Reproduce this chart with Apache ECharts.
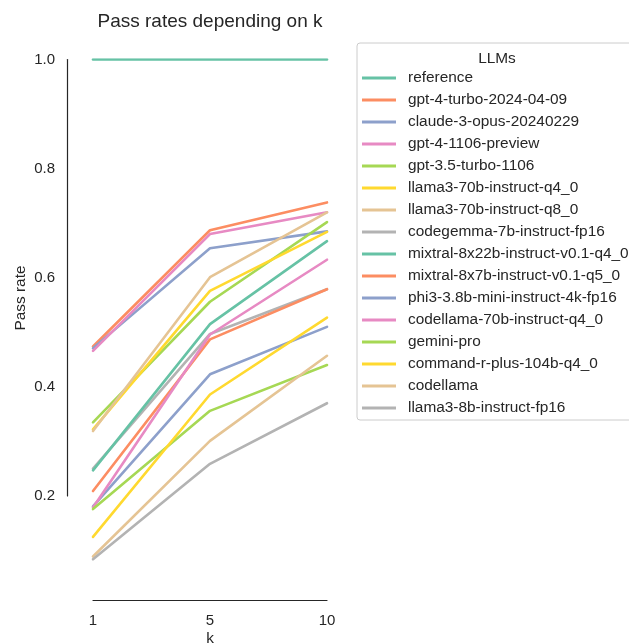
<!DOCTYPE html>
<html>
<head>
<meta charset="utf-8">
<script src="https://cdn.jsdelivr.net/npm/echarts@6/dist/echarts.min.js"></script>
<style>
  html, body { margin: 0; padding: 0; background: #fff; }
  #chart { width: 629px; height: 643px; }
</style>
</head>
<body>
<div id="chart"></div>
<script>
// k values on the x axis
const kValues = ['1', '5', '10']
const yTicks = [0.2, 0.4, 0.6, 0.8, 1.0]

const llmNames = [
  'reference',
  'gpt-4-turbo-2024-04-09',
  'claude-3-opus-20240229',
  'gpt-4-1106-preview',
  'gpt-3.5-turbo-1106',
  'llama3-70b-instruct-q4_0',
  'llama3-70b-instruct-q8_0',
  'codegemma-7b-instruct-fp16',
  'mixtral-8x22b-instruct-v0.1-q4_0',
  'mixtral-8x7b-instruct-v0.1-q5_0',
  'phi3-3.8b-mini-instruct-4k-fp16',
  'codellama-70b-instruct-q4_0',
  'gemini-pro',
  'command-r-plus-104b-q4_0',
  'codellama',
  'llama3-8b-instruct-fp16'
]

// pass rate at k = 1, 5, 10 (same order as llmNames)
const passRates = [
  [1.0, 1.0, 1.0],
  [0.474, 0.687, 0.738],
  [0.471, 0.654, 0.685],
  [0.466, 0.680, 0.720],
  [0.335, 0.556, 0.702],
  [0.322, 0.576, 0.684],
  [0.319, 0.601, 0.720],
  [0.250, 0.497, 0.579],
  [0.247, 0.515, 0.667],
  [0.209, 0.487, 0.579],
  [0.181, 0.423, 0.510],
  [0.179, 0.496, 0.633],
  [0.176, 0.356, 0.440],
  [0.125, 0.386, 0.527],
  [0.089, 0.301, 0.457],
  [0.084, 0.259, 0.370]
]

// seaborn Set2
const colors = ['#66c2a5', '#fc8d62', '#8da0cb', '#e78ac3', '#a6d854', '#ffd92f', '#e5c494', '#b3b3b3']

const fontFamily = '"Liberation Sans", Arial, sans-serif'
const textColor = '#262626'

const chart = echarts.init(document.getElementById('chart'))

const series = llmNames.map((name, i) => ({
  name: name,
  type: 'line',
  xAxisIndex: 0,
  yAxisIndex: 0,
  data: passRates[i],
  symbol: 'none',
  showSymbol: false,
  color: colors[i % colors.length],
  lineStyle: { width: 2.6, cap: 'round', join: 'round' },
  emphasis: { disabled: true },
  animation: false
}))

const option = {
  backgroundColor: '#fff',
  textStyle: { fontFamily: fontFamily },
  title: [
    {
      text: 'Pass rates depending on k',
      left: 205,
      top: 7,
      textAlign: 'center',
      textStyle: { fontSize: 19, fontWeight: 'normal', color: textColor, fontFamily: fontFamily }
    },
    {
      text: 'LLMs',
      left: 492,
      top: 46,
      textAlign: 'center',
      textStyle: { fontSize: 15.4, fontWeight: 'normal', color: textColor, fontFamily: fontFamily }
    }
  ],
  grid: [
    { left: 93, top: 59.5, width: 234, height: 545.6, outerBoundsMode: 'none', containLabel: false },
    { left: 67, top: 59.5, width: 10, height: 436.5, outerBoundsMode: 'none', containLabel: false }
  ],
  xAxis: [
    {
      gridIndex: 0,
      type: 'category',
      data: kValues,
      boundaryGap: false,
      offset: -5,
      axisLine: { show: true, lineStyle: { color: textColor, width: 1.2 } },
      axisTick: { show: false },
      axisLabel: { margin: 13, fontSize: 15, color: textColor },
      splitLine: { show: false },
      name: 'k',
      nameLocation: 'middle',
      nameGap: 31,
      nameMoveOverlap: false,
      nameTextStyle: { fontSize: 15.4, color: textColor }
    },
    { gridIndex: 1, type: 'value', show: false }
  ],
  yAxis: [
    { gridIndex: 0, type: 'value', min: 0, max: 1, show: false },
    {
      gridIndex: 1,
      type: 'value',
      min: yTicks[0],
      max: yTicks[yTicks.length - 1],
      interval: 0.2,
      axisLine: { show: true, lineStyle: { color: textColor, width: 1.2 } },
      axisTick: { show: false },
      splitLine: { show: false },
      axisLabel: {
        margin: 12,
        fontSize: 15,
        color: textColor,
        formatter: v => v.toFixed(1)
      }
    }
  ],
  legend: {
    orient: 'vertical',
    left: 357,
    top: 43,
    data: llmNames,
    icon: 'rect',
    itemWidth: 34,
    itemHeight: 3,
    itemGap: 6,
    padding: [27, 20, 4, 5],
    borderColor: '#cccccc',
    borderWidth: 1,
    borderRadius: 3,
    selectedMode: false,
    textStyle: { fontSize: 15.4, color: textColor, lineHeight: 16, padding: [0, 0, 0, 7], fontFamily: fontFamily }
  },
  graphic: [
    {
      type: 'text',
      x: 21,
      y: 298,
      rotation: Math.PI / 2,
      style: {
        text: 'Pass rate',
        fill: textColor,
        font: '15.4px ' + fontFamily,
        align: 'center',
        verticalAlign: 'middle'
      }
    }
  ],
  series: series,
  animation: false
}

chart.setOption(option)
</script>
</body>
</html>
